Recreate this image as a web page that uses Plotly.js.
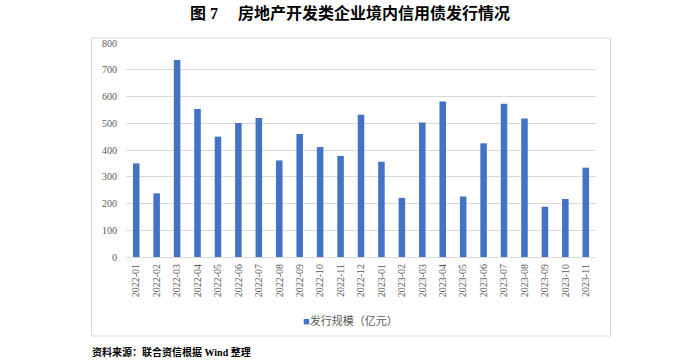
<!DOCTYPE html>
<html><head><meta charset="utf-8">
<script src="https://cdn.plot.ly/plotly-3.0.1.min.js"></script>
<style>html,body{margin:0;padding:0;background:#fff;}#c{width:700px;height:363px;}</style>
</head><body><div id="c"></div>
<script>
const months = ["2022-01","2022-02","2022-03","2022-04","2022-05","2022-06","2022-07","2022-08","2022-09","2022-10","2022-11","2022-12","2023-01","2023-02","2023-03","2023-04","2023-05","2023-06","2023-07","2023-08","2023-09","2023-10","2023-11"];
const issuance = [350,238,736,553,450,501,520,361,460,411,378,532,356,221,503,581,226,425,573,518,188,217,334];
const seriesName = "发行规模（亿元）";
const titleText = "图 7　 房地产开发类企业境内信用债发行情况";
const sourceText = "资料来源：联合资信根据 Wind 整理";

const serif = "Liberation Serif, Noto Sans CJK SC, serif";
const L=126,R=596,T=43,B=257;
const W=R-L,H=B-T;
const px=x=>(x-L)/W, py=y=>(B-y)/H;

Plotly.newPlot('c',[{
  type:'bar', x:months, y:issuance, name:seriesName,
  marker:{color:'#4472c4'}, showlegend:false
}],{
  width:700,height:363,
  margin:{l:L,r:700-R,t:T,b:363-B},
  paper_bgcolor:'#fff',plot_bgcolor:'#fff',
  bargap:0.68,
  title:{text:'<b>'+titleText+'</b>',x:0.5,xanchor:'center',y:0.962,yanchor:'middle',yref:'container',
    font:{family:serif,size:16,color:'#000'}},
  xaxis:{type:'category',tickangle:-90,tickfont:{family:serif,size:10,color:'#595959'},
    showline:true,linecolor:'#d9d9d9',linewidth:1,ticks:'',showgrid:false,ticklabelstandoff:2},
  yaxis:{range:[0,800],dtick:100,tickfont:{family:serif,size:10,color:'#595959'},
    showgrid:true,gridcolor:'#d9d9d9',gridwidth:1,zeroline:false,showline:false,ticks:'',
    ticklabelstandoff:8,tickformat:'d'},
  shapes:[{type:'rect',xref:'paper',yref:'paper',x0:px(91.5),x1:px(610.5),y0:py(336),y1:py(38),
    line:{color:'#d9d9d9',width:1},fillcolor:'rgba(0,0,0,0)',layer:'below'}],
  annotations:[
    {text:'<span style="color:#4472c4">■</span>'+seriesName,xref:'paper',yref:'paper',x:px(350),xanchor:'center',
     y:py(320),yanchor:'middle',showarrow:false,font:{family:serif,size:11,color:'#595959'}},
    {text:'<b>'+sourceText+'</b>',xref:'paper',yref:'paper',x:px(90),xanchor:'left',
    y:py(352),yanchor:'middle',showarrow:false,font:{family:serif,size:10,color:'#000'}}]
},{displayModeBar:false,staticPlot:true});
</script></body></html>
